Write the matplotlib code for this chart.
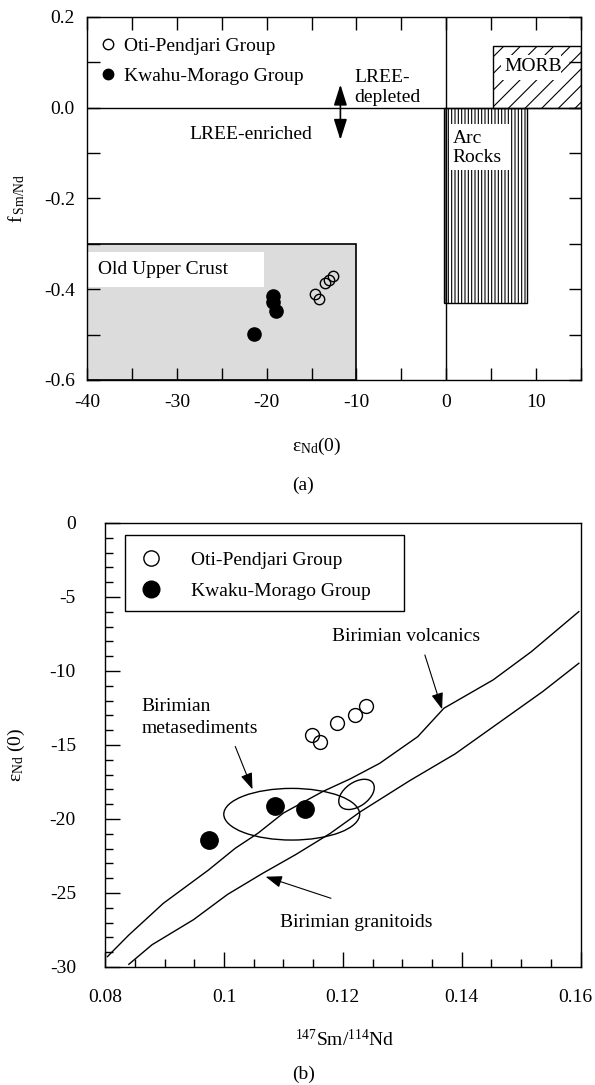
import matplotlib
matplotlib.use("Agg")
import matplotlib.pyplot as plt
import matplotlib.transforms as mtransforms
from matplotlib.patches import Rectangle, Ellipse
from matplotlib.lines import Line2D
from matplotlib.ticker import MultipleLocator, FuncFormatter

plt.rcParams["font.family"] = ["Liberation Serif", "DejaVu Serif"]
plt.rcParams["mathtext.fontset"] = "custom"
plt.rcParams["mathtext.rm"] = "Liberation Serif"
plt.rcParams["mathtext.it"] = "Liberation Serif:italic"
plt.rcParams["axes.unicode_minus"] = False
plt.rcParams["font.size"] = 14
plt.rcParams["hatch.linewidth"] = 0.8

# %% data, panel (a): f(Sm/Nd) vs eps Nd(0)
oti_eps = [-14.6, -14.2, -13.5, -13.0, -12.6]
oti_f = [-0.411, -0.421, -0.387, -0.380, -0.371]
kwahu_eps = [-19.3, -19.3, -19.0, -21.4]
kwahu_f = [-0.415, -0.428, -0.449, -0.498]

# fields (x0, x1, y0, y1)
crust_box = (-40, -10, -0.6, -0.3)
arc_box = (-0.25, 9.0, -0.43, 0.0)
morb_box = (5.27, 15.0, 0.0, 0.135)

# %% data, panel (b): eps Nd(0) vs 147Sm/144Nd
oti_sm = [0.1148, 0.1162, 0.1191, 0.1220, 0.1239]
oti_eps_b = [-14.3, -14.8, -13.5, -13.0, -12.4]
kw_sm = [0.0975, 0.1086, 0.1136]
kw_eps_b = [-21.4, -19.1, -19.35]

volc_x = [0.0804, 0.0840, 0.0898, 0.0974, 0.1019, 0.1057, 0.1100, 0.1166,
          0.1212, 0.1262, 0.1326, 0.1370, 0.1453, 0.1517, 0.1597]
volc_y = [-29.3, -27.84, -25.7, -23.45, -21.98, -20.97, -19.6, -18.15,
          -17.3, -16.24, -14.44, -12.52, -10.6, -8.7, -5.99]
gran_x = [0.0840, 0.0879, 0.0949, 0.1006, 0.1064, 0.1121, 0.1179, 0.1230, 0.1313,
          0.1389, 0.1536, 0.1597]
gran_y = [-29.82, -28.5, -26.8, -25.1, -23.7, -22.4, -20.97, -19.5, -17.4,
          -15.6, -11.4, -9.48]

x_ticks_b = [0.08, 0.10, 0.12, 0.14, 0.16]

# metasediment field (center, width, height) and small field (center, size in inches, angle)
meta_center = (0.1114, -19.68)
meta_size = (0.02286, 3.49)
small_center = (0.1223, -18.34)
small_size = (0.40, 0.24)
small_angle = 35

fig = plt.figure(figsize=(5.95, 10.85), dpi=100)
ax1 = fig.add_axes([0.1467, 0.6498, 0.8291, 0.3346])
ax2 = fig.add_axes([0.1766, 0.1088, 0.7992, 0.4092])

# %% panel (a)
ax1.set_xlim(-40, 15)
ax1.set_ylim(-0.6, 0.2)

x0, x1, y0, y1 = crust_box
ax1.add_patch(Rectangle((x0, y0), x1 - x0, y1 - y0, facecolor="#dcdcdc",
                        edgecolor="black", lw=1.2, zorder=1))
ax1.add_patch(Rectangle((-40, -0.396), 19.75, 0.078, facecolor="white",
                        edgecolor="none", zorder=2))
ax1.text(-38.8, -0.357, "Old Upper Crust", va="center", ha="left", zorder=3)

x0, x1, y0, y1 = arc_box
ax1.add_patch(Rectangle((x0, y0), x1 - x0, y1 - y0, facecolor="white",
                        edgecolor="black", hatch="|||||", lw=1, zorder=1))
ax1.add_patch(Rectangle((0.45, -0.137), 6.75, 0.102, facecolor="white",
                        edgecolor="none", zorder=2))
ax1.text(0.7, -0.088, "Arc\nRocks", va="center", ha="left", linespacing=1.15, zorder=3)

x0, x1, y0, y1 = morb_box
ax1.add_patch(Rectangle((x0, y0), x1 - x0, y1 - y0, facecolor="white",
                        edgecolor="black", hatch="//", lw=1, zorder=1))
ax1.add_patch(Rectangle((6.1, 0.062), 6.7, 0.055, facecolor="white",
                        edgecolor="none", zorder=2))
ax1.text(6.45, 0.09, "MORB", va="center", ha="left", zorder=3)

ax1.axhline(0, color="black", lw=1, zorder=4)
ax1.axvline(0, color="black", lw=1, zorder=4)

ax1.text(-10.2, 0.044, "LREE-\ndepleted", va="center", ha="left", linespacing=1.2)
ax1.text(-28.6, -0.06, "LREE-enriched", va="center", ha="left")
ax1.annotate("", xy=(-11.78, 0.051), xytext=(-11.78, -0.071),
             arrowprops=dict(arrowstyle="<|-|>,head_length=0.63,head_width=0.2",
                             mutation_scale=20, color="black", lw=1.2,
                             shrinkA=0, shrinkB=0))

ax1.plot(oti_eps, oti_f, "o", mfc="none", mec="black", ms=7.5, mew=1, zorder=5)
ax1.plot(kwahu_eps, kwahu_f, "o", color="black", ms=9.5, zorder=5)

h_open = Line2D([], [], ls="none", marker="o", mfc="none", mec="black", ms=7.5, mew=1)
h_fill = Line2D([], [], ls="none", marker="o", color="black", ms=7.5)
ax1.legend([h_open, h_fill], ["Oti-Pendjari Group", "Kwahu-Morago Group"],
           loc="upper left", bbox_to_anchor=(0.0227, 0.945), frameon=False,
           borderpad=0, borderaxespad=0, handlelength=1.0, handletextpad=0.31,
           labelspacing=0.67, fontsize=14)

ax1.xaxis.set_major_locator(MultipleLocator(10))
ax1.xaxis.set_minor_locator(MultipleLocator(5))
ax1.yaxis.set_major_locator(MultipleLocator(0.2))
ax1.yaxis.set_minor_locator(MultipleLocator(0.1))
ax1.yaxis.set_major_formatter(FuncFormatter(lambda v, p: f"{v:.1f}" if abs(v) > 1e-9 else "0.0"))
ax1.tick_params(which="both", direction="in", top=True, right=True, length=9, width=1)
ax1.tick_params(axis="x", pad=10, labelsize=14)
ax1.tick_params(axis="y", pad=9, labelsize=14)
for s in ax1.spines.values():
    s.set_linewidth(1.0)

ax1.set_ylabel("f$\\,_{\\mathrm{Sm/Nd}}$", fontsize=14)
ax1.yaxis.set_label_coords(-0.122, 0.5)
ax1.text(0.466, -0.184, "ε$_{\\mathrm{Nd}}$(0)", transform=ax1.transAxes,
         ha="center", va="center", fontsize=14)
ax1.text(0.438, -0.289, "(a)", transform=ax1.transAxes, ha="center", va="center",
         fontsize=14)

# %% panel (b)
ax2.set_xlim(0.08, 0.16)
ax2.set_ylim(-30, 0)

ax2.plot(volc_x, volc_y, color="black", lw=1)
ax2.plot(gran_x, gran_y, color="black", lw=1)
ax2.add_patch(Ellipse(meta_center, meta_size[0], meta_size[1], fill=False,
                      edgecolor="black", lw=1))
small_tr = fig.dpi_scale_trans + mtransforms.ScaledTranslation(
    small_center[0], small_center[1], ax2.transData)
ax2.add_patch(Ellipse((0, 0), small_size[0], small_size[1], angle=small_angle,
                      fill=False, edgecolor="black", lw=1, transform=small_tr))

ax2.plot(oti_sm, oti_eps_b, "o", mfc="none", mec="black", ms=10, mew=1, zorder=5)
ax2.plot(kw_sm, kw_eps_b, "o", color="black", ms=12.5, zorder=5)

arrow_kw = dict(arrowstyle="-|>,head_length=0.5,head_width=0.18", mutation_scale=20,
                color="black", lw=0.8, shrinkA=0, shrinkB=0)
ax2.text(0.1182, -7.68, "Birimian volcanics", va="center", ha="left")
ax2.annotate("", xy=(0.1367, -12.59), xytext=(0.1338, -8.92), arrowprops=arrow_kw)
ax2.text(0.0861, -13.15, "Birimian\nmetasediments", va="center", ha="left",
         linespacing=1.4)
ax2.annotate("", xy=(0.1048, -18.0), xytext=(0.1019, -15.1), arrowprops=arrow_kw)
ax2.text(0.1094, -27.0, "Birimian granitoids", va="center", ha="left")
ax2.annotate("", xy=(0.1070, -23.9), xytext=(0.1180, -25.36), arrowprops=arrow_kw)

ax2.add_patch(Rectangle((0.0423, 0.8018), 0.5867, 0.1712, transform=ax2.transAxes,
                        fill=False, edgecolor="black", lw=1, zorder=6))
hb_open = Line2D([], [], ls="none", marker="o", mfc="none", mec="black", ms=11, mew=1)
hb_fill = Line2D([], [], ls="none", marker="o", color="black", ms=12)
ax2.legend([hb_open, hb_fill], ["Oti-Pendjari Group", "Kwaku-Morago Group"],
           loc="upper left", bbox_to_anchor=(0.0658, 0.937), frameon=False,
           borderpad=0, borderaxespad=0, handlelength=1.5, handletextpad=1.3,
           labelspacing=0.72, fontsize=14)

ax2.set_xticks(x_ticks_b, [f"{v:g}" for v in x_ticks_b])
ax2.xaxis.set_minor_locator(MultipleLocator(0.005))
ax2.yaxis.set_major_locator(MultipleLocator(5))
ax2.yaxis.set_minor_locator(MultipleLocator(1))
ax2.yaxis.set_major_formatter(FuncFormatter(lambda v, p: f"{v:g}" if abs(v) > 1e-9 else "0"))
ax2.tick_params(which="major", direction="in", length=11, width=1)
ax2.tick_params(which="minor", direction="in", length=5.5, width=1)
ax2.tick_params(axis="x", pad=16, labelsize=14)
ax2.tick_params(axis="y", pad=21, labelsize=14)
for s in ax2.spines.values():
    s.set_linewidth(1.0)

# nudge the last x tick label ("0.16") left so it stays inside the figure
fig.canvas.draw()
last_label = ax2.xaxis.get_major_ticks()[len(x_ticks_b) - 1].label1
last_label.set_transform(last_label.get_transform()
                         + mtransforms.ScaledTranslation(-0.05, 0, fig.dpi_scale_trans))

ax2.set_ylabel("ε$_{\\mathrm{Nd}}$ (0)", fontsize=14)
ax2.yaxis.set_label_coords(-0.164, 0.477)
ax2.text(0.503, -0.164, "$^{147}$Sm/$^{114}$Nd", transform=ax2.transAxes,
         ha="center", va="center", fontsize=14)
ax2.text(0.417, -0.243, "(b)", transform=ax2.transAxes, ha="center", va="center",
         fontsize=14)

fig.savefig("out.png", dpi=100)
